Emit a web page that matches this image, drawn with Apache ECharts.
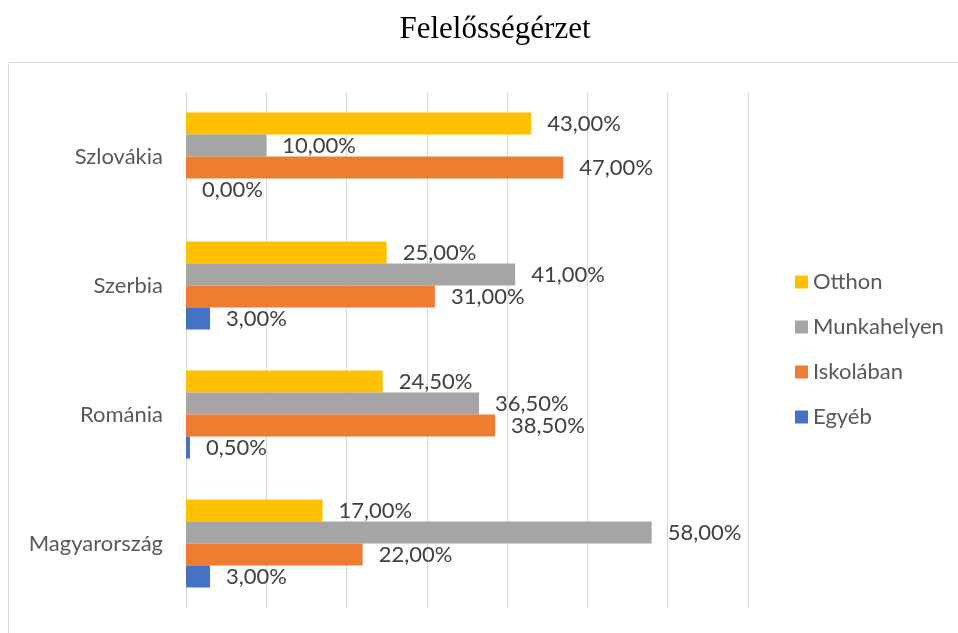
<!DOCTYPE html>
<html>
<head>
<meta charset="utf-8">
<script src="https://cdn.jsdelivr.net/npm/echarts@6/dist/echarts.min.js"></script>
<style>
html,body{margin:0;padding:0;background:#fff;}
#chart{width:958px;height:633px;}
</style>
</head>
<body>
<div id="chart"></div>
<script>
const categories = ['Magyarország', 'Románia', 'Szerbia', 'Szlovákia'];
const otthon = [17, 24.5, 25, 43];
const munkahelyen = [58, 36.5, 41, 10];
const iskolaban = [22, 38.5, 31, 47];
const egyeb = [3, 0.5, 3, 0];
const legendNames = ['Otthon', 'Munkahelyen', 'Iskolában', 'Egyéb'];
const axisTicks = [0, 10, 20, 30, 40, 50, 60, 70];

const FONT = 'Lato';
const FS = 22;
const fmt = p => p.value.toFixed(2).replace('.', ',') + '%';

function mk(name, data, color) {
  return {
    name: name, type: 'bar', data: data, barWidth: 22, barGap: '0%',
    itemStyle: { color: color },
    label: { show: true, position: 'right', distance: 16, formatter: fmt,
      color: '#404040', fontSize: FS, fontFamily: FONT },
    emphasis: { disabled: true }
  };
}

const chart = echarts.init(document.getElementById('chart'), null, { renderer: 'canvas' });
chart.setOption({
  animation: false,
  backgroundColor: '#fff',
  title: {
    text: 'Felelősségérzet', left: 490, top: 9, textAlign: 'center',
    textStyle: { fontFamily: 'Liberation Serif', fontWeight: 'normal', fontSize: 31, color: '#000' }
  },
  graphic: [{
    type: 'rect', shape: { x: 8.5, y: 62.5, width: 990, height: 620 },
    style: { fill: 'none', stroke: '#d9d9d9', lineWidth: 1 }, silent: true, z: -1
  }],
  legend: {
    orient: 'vertical', left: 790, top: 266,
    data: legendNames, icon: 'rect', itemWidth: 13, itemHeight: 13, itemGap: 23,
    textStyle: { fontFamily: FONT, fontSize: FS, color: '#595959', lineHeight: 22 },
    selectedMode: false
  },
  grid: { left: 186, top: 92, width: 562, height: 516, containLabel: false },
  xAxis: {
    type: 'value', min: axisTicks[0], max: axisTicks[axisTicks.length - 1], interval: 10,
    axisLabel: { show: false }, axisLine: { show: false }, axisTick: { show: false },
    splitLine: { show: true, lineStyle: { color: '#d9d9d9', width: 1 } }
  },
  yAxis: {
    type: 'category', data: categories,
    axisLine: { show: false }, axisTick: { show: false },
    axisLabel: { margin: 23, fontFamily: FONT, fontSize: FS, color: '#595959' }
  },
  series: [
    mk('Otthon', otthon, '#FFC000'),
    mk('Munkahelyen', munkahelyen, '#A5A5A5'),
    mk('Iskolában', iskolaban, '#ED7D31'),
    mk('Egyéb', egyeb, '#4472C4')
  ]
});
</script>
</body>
</html>
